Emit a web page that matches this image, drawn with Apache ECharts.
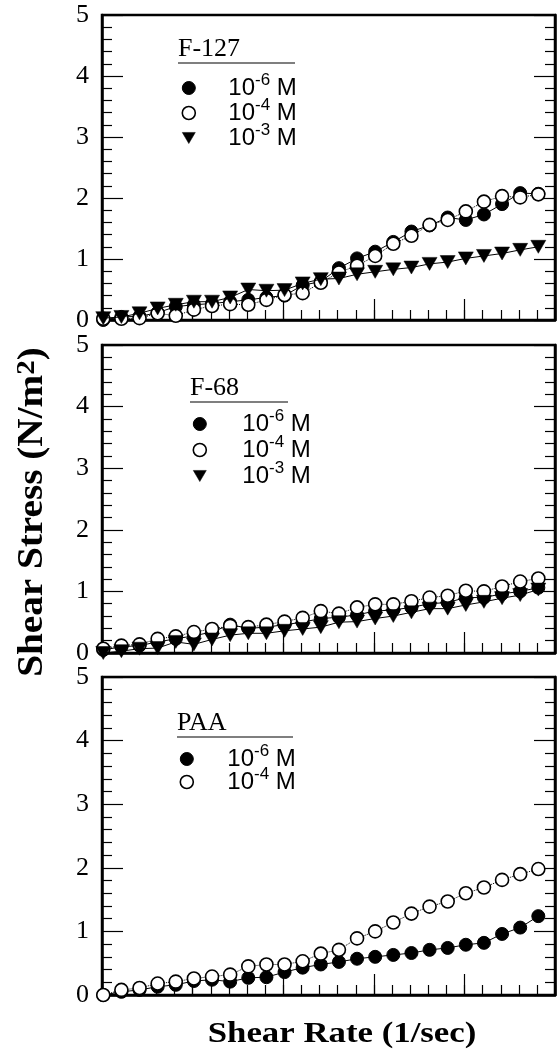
<!DOCTYPE html>
<html>
<head>
<meta charset="utf-8">
<script src="https://cdn.jsdelivr.net/npm/echarts@6/dist/echarts.min.js"></script>
<style>
  html, body { margin: 0; padding: 0; background: #fff; }
  #myChart { width: 557px; height: 1057px; }
</style>
</head>
<body>
<div id="myChart"></div>
<script>
// shear rate points (no labels on the axis, just evenly spaced steps)
const shearRate = [1, 2, 3, 4, 5, 6, 7, 8, 9, 10, 11, 12, 13, 14, 15, 16, 17, 18, 19, 20, 21, 22, 23, 24, 25]

// F-127
const f127_m6 = [0.00, 0.05, 0.06, 0.12, 0.22, 0.25, 0.27, 0.30, 0.33, 0.37, 0.40, 0.57, 0.63, 0.85, 1.01, 1.12, 1.28, 1.45, 1.55, 1.68, 1.64, 1.73, 1.90, 2.08, 2.07]
const f127_m4 = [0.02, 0.02, 0.03, 0.11, 0.07, 0.17, 0.23, 0.26, 0.25, 0.33, 0.41, 0.44, 0.61, 0.78, 0.89, 1.05, 1.25, 1.38, 1.56, 1.64, 1.78, 1.94, 2.03, 2.01, 2.06]
const f127_m3 = [0.03, 0.05, 0.11, 0.19, 0.25, 0.30, 0.30, 0.37, 0.50, 0.48, 0.49, 0.60, 0.67, 0.68, 0.75, 0.79, 0.83, 0.86, 0.92, 0.95, 1.01, 1.05, 1.09, 1.15, 1.20]
// F-68
const f68_m6 = [0.05, 0.10, 0.12, 0.18, 0.23, 0.28, 0.34, 0.46, 0.40, 0.42, 0.46, 0.50, 0.56, 0.58, 0.62, 0.68, 0.70, 0.74, 0.80, 0.82, 0.90, 0.90, 0.96, 1.00, 1.06]
const f68_m4 = [0.07, 0.12, 0.14, 0.23, 0.27, 0.34, 0.39, 0.44, 0.42, 0.46, 0.51, 0.57, 0.68, 0.64, 0.74, 0.79, 0.79, 0.84, 0.90, 0.93, 1.01, 1.00, 1.08, 1.16, 1.21]
const f68_m3 = [0.00, 0.03, 0.07, 0.08, 0.18, 0.14, 0.22, 0.29, 0.32, 0.32, 0.36, 0.39, 0.42, 0.50, 0.51, 0.56, 0.60, 0.66, 0.72, 0.72, 0.78, 0.83, 0.89, 0.94, 1.03]
// PAA
const paa_m6 = [0.00, 0.05, 0.08, 0.13, 0.16, 0.22, 0.24, 0.21, 0.27, 0.28, 0.36, 0.43, 0.48, 0.52, 0.57, 0.60, 0.63, 0.66, 0.71, 0.74, 0.79, 0.82, 0.96, 1.06, 1.24]
const paa_m4 = [0.00, 0.08, 0.11, 0.18, 0.21, 0.26, 0.29, 0.32, 0.45, 0.48, 0.48, 0.53, 0.65, 0.71, 0.89, 1.00, 1.14, 1.28, 1.39, 1.47, 1.60, 1.69, 1.81, 1.90, 1.98]

const panelNames = ['F-127', 'F-68', 'PAA']
const yTicks = [0, 1, 2, 3, 4, 5]

// legend text: 10^-n M
const concText = { m6: '-6', m4: '-4', m3: '-3' }

const panels = [
    { top: 15, height: 305, title: { x: 178, y: 58, lineEnd: 295 }, legend: { left: 181.5, top: 72, gap: -3, pad: 28 },
      sets: [['m6', f127_m6], ['m4', f127_m4], ['m3', f127_m3]] },
    { top: 345, height: 308, title: { x: 190, y: 397, lineEnd: 288 }, legend: { left: 192.5, top: 408, gap: -2, pad: 31 },
      sets: [['m6', f68_m6], ['m4', f68_m4], ['m3', f68_m3]] },
    { top: 677, height: 318, title: { x: 177, y: 732, lineEnd: 293 }, legend: { left: 179.5, top: 743, gap: -5, pad: 29 },
      sets: [['m6', paa_m6], ['m4', paa_m4]] }
]

const serif = '"Liberation Serif", "Times New Roman", serif'
const sans = '"Liberation Sans", Arial, sans-serif'

const styleOf = {
    m6: { symbol: 'circle', symbolSize: 13, symbolRotate: 0, itemStyle: { color: '#000', borderColor: '#000', borderWidth: 1 },
          lineStyle: { color: '#000', width: 1, type: 'solid' }, icon: 'circle', z: 2 },
    m4: { symbol: 'circle', symbolSize: 13, symbolRotate: 0, itemStyle: { color: '#fff', borderColor: '#000', borderWidth: 1.6 },
          lineStyle: { color: '#000', width: 1, type: 'dotted' }, icon: 'circle', z: 3 },
    m3: { symbol: 'triangle', symbolSize: [15, 13], symbolRotate: 180, itemStyle: { color: '#000', borderColor: '#000', borderWidth: 0.5 },
          lineStyle: { color: '#000', width: 1, type: 'solid' }, icon: 'path://M0,0L14,0L7,12Z', z: 4 }
}

let grid = [], xAxis = [], yAxis = [], series = [], legend = [], graphic = []

panels.forEach((p, i) => {
    grid.push({ left: 102, top: p.top, width: 453, height: p.height, show: true, borderColor: '#000', borderWidth: 2.5,
                backgroundColor: 'transparent', containLabel: false, outerBoundsMode: 'none' })
    // minor ticks every step
    xAxis.push({ type: 'value', gridIndex: i, min: 0.93, max: 25.92, interval: 1, position: 'bottom',
                 axisLine: { show: true, lineStyle: { color: '#000', width: 2.5 } },
                 axisTick: { show: true, inside: true, length: 10, lineStyle: { color: '#000', width: 1.2 } },
                 axisLabel: { show: false }, splitLine: { show: false } })
    // major ticks every 5
    xAxis.push({ type: 'value', gridIndex: i, min: 0.93, max: 25.92, interval: 5, position: 'bottom',
                 axisLine: { show: false },
                 axisTick: { show: true, inside: true, length: 21, lineStyle: { color: '#000', width: 1.2 } },
                 axisLabel: { show: false }, splitLine: { show: false } })
    const yBase = { type: 'value', gridIndex: i, min: yTicks[0], max: yTicks[yTicks.length - 1], interval: 1,
                    axisLine: { show: true, lineStyle: { color: '#000', width: 2.5 } },
                    axisTick: { show: true, inside: true, length: 21, lineStyle: { color: '#000', width: 1.2 } },
                    minorTick: { show: true, splitNumber: 5, length: 10, lineStyle: { color: '#000', width: 1.2 } },
                    splitLine: { show: false }, minorSplitLine: { show: false } }
    yAxis.push(Object.assign({}, yBase, { position: 'left',
                 axisLabel: { show: true, color: '#000', fontFamily: serif, fontSize: 26, margin: 13 } }))
    yAxis.push(Object.assign({}, yBase, { position: 'right', axisLabel: { show: false } }))

    const legendData = []
    p.sets.forEach(([key, vals]) => {
        const st = styleOf[key]
        const name = panelNames[i] + ' ' + key
        series.push({
            name: name, type: 'line', xAxisIndex: i * 2, yAxisIndex: i * 2,
            data: shearRate.map((x, k) => [x, vals[k]]),
            symbol: st.symbol, symbolSize: st.symbolSize, symbolRotate: st.symbolRotate,
            itemStyle: st.itemStyle, lineStyle: st.lineStyle, z: st.z,
            showSymbol: true, clip: false, animation: false, silent: true
        })
        legendData.push({ name: name, icon: st.icon, itemStyle: st.itemStyle })
    })
    legend.push({
        show: true, orient: 'vertical', left: p.legend.left, top: p.legend.top,
        itemWidth: 13, itemHeight: 13, itemGap: p.legend.gap, padding: 0,
        selectedMode: false, data: legendData,
        formatter: (name) => '{sp| }{n|10}{s|' + concText[name.split(' ')[1]] + '}{n| M}',
        textStyle: {
            color: '#000', fontFamily: sans, fontSize: 24, lineHeight: 24,
            rich: {
                sp: { width: p.legend.pad, fontSize: 10, lineHeight: 24 },
                n: { fontFamily: sans, fontSize: 24, lineHeight: 24, verticalAlign: 'bottom', color: '#000' },
                s: { fontFamily: sans, fontSize: 17, lineHeight: 24, verticalAlign: 'bottom', padding: [0, 0, 11, 0], color: '#000' }
            }
        }
    })
    // group label with the short rule below it
    graphic.push({ type: 'text', left: p.title.x, top: p.title.y - 22,
                   style: { text: panelNames[i], fill: '#000', font: '26px ' + serif } })
    graphic.push({ type: 'line', shape: { x1: p.title.x, y1: p.title.y + 5, x2: p.title.lineEnd, y2: p.title.y + 5 },
                   style: { stroke: '#000', lineWidth: 1.2 } })
})

// axis titles
graphic.push({
    type: 'text', x: 32, y: 512, rotation: Math.PI / 2, scaleX: 1.12,
    style: {
        text: '{t|Shear Stress (N/m}{s|2}{t|)}', align: 'center', verticalAlign: 'middle', fill: '#000',
        rich: {
            t: { fontFamily: serif, fontWeight: 'bold', fontSize: 35, lineHeight: 36, verticalAlign: 'bottom' },
            s: { fontFamily: serif, fontWeight: 'bold', fontSize: 26, lineHeight: 36, verticalAlign: 'bottom', padding: [0, 0, 10, 0] }
        }
    }
})
graphic.push({
    type: 'text', x: 342, y: 1035, scaleX: 1.2,
    style: { text: 'Shear Rate (1/sec)', align: 'center', verticalAlign: 'middle', fill: '#000',
             font: 'bold 29px ' + serif }
})

let myChart = echarts.init(document.getElementById('myChart'), null, { renderer: 'canvas' })
myChart.setOption({
    animation: false,
    backgroundColor: '#fff',
    grid: grid,
    xAxis: xAxis,
    yAxis: yAxis,
    legend: legend,
    series: series,
    graphic: graphic
})
</script>
</body>
</html>
